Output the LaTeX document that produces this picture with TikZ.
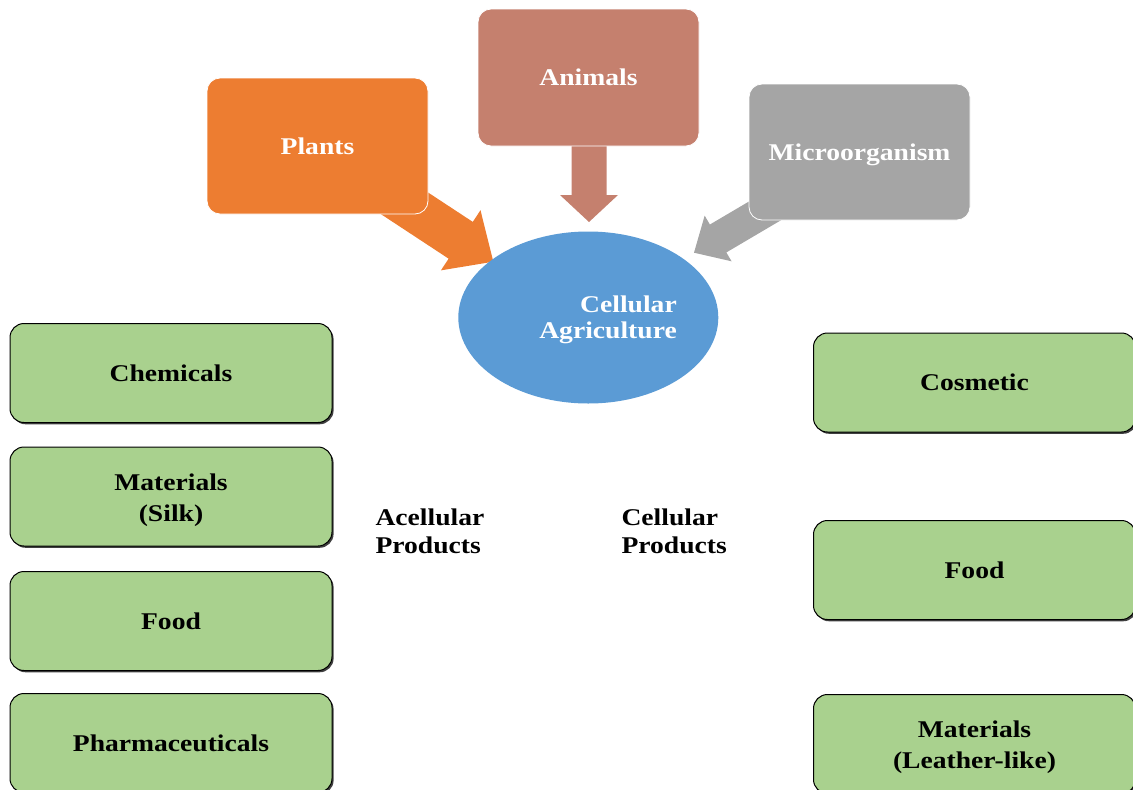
\documentclass[tikz,border=0pt]{standalone}
\usepackage{fontspec}
\setmainfont{Liberation Serif}[FakeStretch=1.15]
\usetikzlibrary{calc,shadows,shapes.geometric}

\definecolor{plantorange}{HTML}{ED7D31}
\definecolor{animalrose}{HTML}{C5806E}
\definecolor{microgray}{HTML}{A5A5A5}
\definecolor{cellblue}{HTML}{5B9BD5}
\definecolor{prodgreen}{HTML}{A9D18E}

% raises the first line of a two-line label so the pair sits a little lower
\newcommand{\tallstrut}{\rule{0pt}{24pt}}

\tikzset{
  labelfont/.style={font=\fontsize{24}{#1}\selectfont\bfseries},
  labelfont/.default=30,
  srcbox/.style={rectangle, rounded corners=13pt, minimum width=221pt,
    minimum height=136pt, draw=white, line width=0.8pt, text=white,
    text depth=0pt, labelfont},
  prodbox/.style={rectangle, rounded corners=14pt, fill=prodgreen, draw=black,
    line width=1pt, minimum width=322pt, minimum height=99pt, align=center,
    labelfont=31,
    drop shadow={shadow xshift=1.6pt, shadow yshift=-1.8pt, fill=black!75, opacity=1}},
  hubnode/.style={ellipse, fill=cellblue, minimum width=260pt, minimum height=172pt},
  sidelabel/.style={anchor=west, align=left, labelfont=28},
}

% block arrow: start, tip, shaft half width, head half width, head length, colour
\newcommand{\blkarrow}[6]{%
  \coordinate (hb) at ($(#2)!#5!(#1)$);
  \fill[#6] ($(#1)!#3!90:(#2)$) -- ($(hb)!#3!90:(#2)$) -- ($(hb)!#4!90:(#2)$)
    -- (#2) -- ($(hb)!#4!-90:(#2)$) -- ($(hb)!#3!-90:(#2)$)
    -- ($(#1)!#3!-90:(#2)$) -- cycle;
}

\begin{document}
\begin{tikzpicture}[x=1pt, y=-1pt]
  \useasboundingbox (0,0) rectangle (1133,790);
  \clip (0,0) rectangle (1133,790);

  % sources and hub positions
  \coordinate (plantsC) at (317.5,146);
  \coordinate (animalsC) at (588.5,77.5);
  \coordinate (microC) at (859.5,152);
  \coordinate (hubC) at (588.3,317.5);

  % arrows into the hub (drawn first so boxes and hub sit on top)
  \coordinate (plS) at ($(plantsC)+(67.5,44.5)$);
  \coordinate (plT) at ($(hubC)+(-95,-55.8)$);
  \coordinate (anS) at ($(animalsC)+(0.5,62.5)$);
  \coordinate (anT) at ($(hubC)+(0.7,-95.5)$);
  \coordinate (miS) at ($(microC)+(-79.5,50)$);
  \coordinate (miT) at ($(hubC)+(105.7,-64.8)$);
  \blkarrow{plS}{plT}{22pt}{36pt}{39pt}{plantorange}
  \blkarrow{anS}{anT}{17.5pt}{29pt}{27pt}{animalrose}
  \blkarrow{miS}{miT}{16.2pt}{26.5pt}{28pt}{microgray}

  % source boxes
  \node[srcbox, fill=plantorange] (plants) at (plantsC) {Plants};
  \node[srcbox, fill=animalrose, minimum height=137pt] (animals) at (animalsC) {Animals};
  \node[srcbox, fill=microgray] (micro) at (microC) {Microorganism};

  % hub
  \node[hubnode] (hub) at (hubC) {};
  \node[anchor=east, align=right, text=white, labelfont=26] (hubtext)
    at ($(hub.center)+(92,2.5)$) {Cellular\\Agriculture};

  % acellular products
  \node[prodbox] (chem)   at (171,373)   {Chemicals};
  \node[prodbox] (silk)   at (171,496.5) {\tallstrut Materials\\(Silk)};
  \node[prodbox] (afood)  at (171,621)   {Food};
  \node[prodbox] (pharma) at (171,743)   {Pharmaceuticals};

  % cellular products
  \node[prodbox] (cosm)    at (974.5,382.5) {Cosmetic};
  \node[prodbox] (cfood)   at (974.5,570)   {Food};
  \node[prodbox] (leather) at (974.5,744)   {\tallstrut Materials\\(Leather-like)};

  % column headings
  \node[sidelabel] (acell) at (372,531) {Acellular\\Products};
  \node[sidelabel] (cell)  at (618,531) {Cellular\\Products};
\end{tikzpicture}
\end{document}
